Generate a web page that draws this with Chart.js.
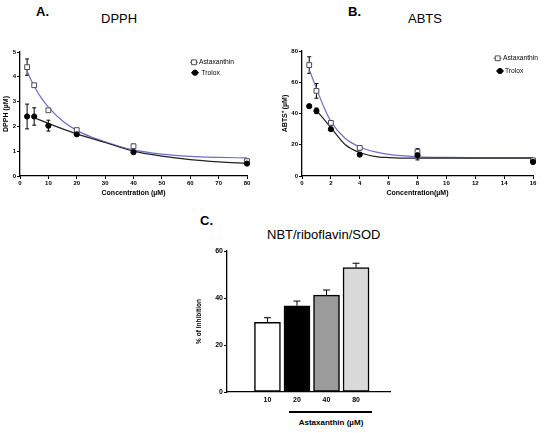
<!DOCTYPE html>
<html>
<head>
<meta charset="utf-8">
<script src="https://cdn.jsdelivr.net/npm/chart.js@4.4.0/dist/chart.umd.min.js"></script>
<style>
  body { margin: 0; background: #fff; }
  #page { position: relative; width: 550px; height: 433px; overflow: hidden; font-family: "Liberation Sans", Arial, sans-serif; color: #000; }
  canvas { position: absolute; }
  .lbl { position: absolute; line-height: 1; white-space: nowrap; }
</style>
</head>
<body>
<div id="page">
  <div class="lbl" style="left:36px;top:5px;font-size:13px;font-weight:bold">A.</div>
  <div class="lbl" style="left:101px;top:12px;font-size:13px">DPPH</div>
  <div class="lbl" style="left:348px;top:5px;font-size:13px;font-weight:bold">B.</div>
  <div class="lbl" style="left:408px;top:12px;font-size:13px">ABTS</div>
  <div class="lbl" style="left:200px;top:214px;font-size:13px;font-weight:bold">C.</div>
  <div class="lbl" style="left:267px;top:228px;font-size:13px">NBT/riboflavin/SOD</div>

  <canvas id="chartA" width="275" height="170" style="left:0;top:30px"></canvas>
  <canvas id="chartB" width="275" height="170" style="left:275px;top:30px"></canvas>
  <canvas id="chartC" width="270" height="170" style="left:140px;top:236px"></canvas>

  <div style="position:absolute;left:289px;top:411px;width:83px;height:1.5px;background:#000"></div>
  <div class="lbl" style="left:331px;top:419px;font-size:8px;font-weight:bold;transform:translateX(-50%)">Astaxanthin (µM)</div>
</div>

<script>
// A. DPPH
const dpphConc = [2.5, 5, 10, 20, 40, 80];
const dpphAsta = [4.39, 3.66, 2.65, 1.85, 1.2, 0.6];
const dpphAstaErr = [0.33, 0.05, 0.05, 0.05, 0.08, 0.03];
const dpphTrolox = [2.4, 2.4, 2.03, 1.68, 0.96, 0.5];
const dpphTroloxErr = [0.5, 0.35, 0.22, 0.05, 0.04, 0.03];
// fitted curves
const dpphAstaFitX = [2.5, 5, 7.5, 10, 15, 20, 25, 30, 40, 50, 60, 70, 80];
const dpphAstaFitY = [4.22, 3.62, 3.15, 2.78, 2.22, 1.84, 1.58, 1.38, 1.05, 0.88, 0.79, 0.75, 0.73];
const dpphTroloxFitX = [5, 10, 15, 20, 30, 40, 50, 60, 70, 80];
const dpphTroloxFitY = [2.35, 2.12, 1.9, 1.7, 1.35, 1.0, 0.8, 0.66, 0.57, 0.51];

// B. ABTS
const abtsConc = [0.5, 1, 2, 4, 8, 16];
const abtsAsta = [71, 54.5, 34, 18, 15.5, 10];
const abtsAstaErr = [5.3, 4.7, 1.5, 1.5, 2, 0.8];
const abtsTrolox = [44.7, 41.7, 30, 13.7, 13.3, 9];
const abtsTroloxErr = [0.8, 1.8, 0.8, 0.8, 3, 0.8];
const abtsAstaFitX = [0.5, 1, 1.5, 2, 3, 4, 5, 6, 8, 10, 12, 16];
const abtsAstaFitY = [68, 56, 44.5, 35, 24, 18.6, 15.6, 13.8, 12.3, 11.9, 11.8, 11.7];
const abtsTroloxFitX = [1, 1.5, 2, 3, 4, 5, 6, 8, 12, 16];
const abtsTroloxFitY = [42, 36.5, 31, 20, 15, 12.6, 11.8, 11.4, 11.4, 11.4];

// C. NBT/riboflavin/SOD
const sodDoses = ['10', '20', '40', '80'];
const sodInhibition = [29.6, 36.7, 41.2, 52.9];
const sodErr = [2.0, 2.0, 2.2, 1.9];
const sodColors = ['#ffffff', '#000000', '#9b9b9b', '#d9d9d9'];

const FONT = '"Liberation Sans", Arial, sans-serif';
const ASTA_LINE = '#6e6ec8';
const TROLOX_LINE = '#222222';
Chart.defaults.font.family = FONT;
Chart.defaults.color = '#000';

const xy = (xs, ys) => xs.map((x, i) => ({ x, y: ys[i] }));

function points(xs, ys, errs, kind, order) {
  const asta = kind === 'asta';
  return {
    data: xy(xs, ys), errors: errs, order, clip: false,
    pointStyle: asta ? 'rect' : 'circle',
    pointRadius: asta ? 3.4 : 2.6,
    backgroundColor: asta ? '#fff' : '#000',
    borderColor: asta ? '#4a4a5a' : '#000',
    borderWidth: 1
  };
}

function fit(xs, ys, color, order) {
  return {
    data: xy(xs, ys), order, clip: false, showLine: true, pointRadius: 0,
    borderColor: color, borderWidth: 1.2, cubicInterpolationMode: 'monotone', fill: false
  };
}

// fix the axis box so the plot area lands where the figure has it
function fixBox(w, h) {
  return scale => {
    if (w != null) scale.width = w;
    if (h != null) scale.height = h;
    scale.paddingLeft = scale.paddingRight = scale.paddingTop = scale.paddingBottom = 0;
  };
}

function axis({ min, max, step, title, tickSize, titleSize, titlePad, w, h }) {
  return {
    type: 'linear', min, max,
    ticks: { stepSize: step, color: '#000', font: { size: tickSize, weight: 'bold' }, padding: 1 },
    grid: { drawOnChartArea: false, drawTicks: true, tickLength: 3, tickColor: '#000', tickWidth: 1 },
    border: { display: true, color: '#000', width: 1.3 },
    title: title
      ? { display: true, text: title, color: '#000', font: { size: titleSize, weight: 'bold' }, padding: titlePad }
      : { display: false },
    afterFit: fixBox(w, h)
  };
}

const errorBars = {
  id: 'errorBars',
  beforeDatasetsDraw(chart) {
    const { ctx } = chart;
    const y = chart.scales.y;
    chart.data.datasets.forEach((ds, i) => {
      if (!ds.errors) return;
      const meta = chart.getDatasetMeta(i);
      const cap = ds.capWidth || 2;
      ctx.save();
      ctx.strokeStyle = '#000';
      ctx.lineWidth = 1;
      meta.data.forEach((el, j) => {
        const v = ds.data[j].y, e = ds.errors[j];
        const top = y.getPixelForValue(v + e);
        const bot = ds.upperOnly ? el.y : y.getPixelForValue(v - e);
        ctx.beginPath();
        ctx.moveTo(el.x, top); ctx.lineTo(el.x, bot);
        ctx.moveTo(el.x - cap, top); ctx.lineTo(el.x + cap, top);
        if (!ds.upperOnly) { ctx.moveTo(el.x - cap, bot); ctx.lineTo(el.x + cap, bot); }
        ctx.stroke();
      });
      ctx.restore();
    });
  }
};

const insideLegend = {
  id: 'insideLegend',
  afterDraw(chart, args, opts) {
    const { ctx } = chart;
    ctx.save();
    (opts.items || []).forEach(it => {
      const p = chart.data.datasets[it.point];
      const l = chart.data.datasets[it.line];
      ctx.strokeStyle = l.borderColor;
      ctx.lineWidth = 1.2;
      ctx.beginPath();
      ctx.moveTo(it.x - 4, it.y); ctx.lineTo(it.x + 4, it.y);
      ctx.stroke();
      ctx.fillStyle = p.backgroundColor;
      ctx.strokeStyle = p.borderColor;
      ctx.lineWidth = 1;
      ctx.beginPath();
      if (p.pointStyle === 'rect') ctx.rect(it.x - 2.4, it.y - 2.4, 4.8, 4.8);
      else ctx.arc(it.x, it.y, 2.6, 0, Math.PI * 2);
      ctx.fill(); ctx.stroke();
      ctx.fillStyle = '#000';
      ctx.font = '6.7px ' + FONT;
      ctx.textBaseline = 'middle';
      ctx.fillText(it.label, it.tx, it.y);
    });
    ctx.restore();
  }
};

const base = {
  responsive: false, animation: false,
  plugins: { legend: { display: false }, tooltip: { enabled: false } }
};

new Chart(document.getElementById('chartA'), {
  type: 'scatter',
  data: { datasets: [
    points(dpphConc, dpphTrolox, dpphTroloxErr, 'trolox', 0),
    points(dpphConc, dpphAsta, dpphAstaErr, 'asta', 1),
    fit(dpphTroloxFitX, dpphTroloxFitY, TROLOX_LINE, 2),
    fit(dpphAstaFitX, dpphAstaFitY, ASTA_LINE, 3)
  ] },
  options: {
    ...base,
    layout: { padding: { left: 0, top: 22, right: 28, bottom: 0 } },
    plugins: { ...base.plugins, insideLegend: { items: [
      { label: 'Astaxanthin', point: 1, line: 3, x: 194, y: 32.3, tx: 199 },
      { label: 'Trolox', point: 0, line: 2, x: 195, y: 42.7, tx: 201.5 }
    ] } },
    scales: {
      x: axis({ min: 0, max: 80, step: 10, title: 'Concentration (µM)', tickSize: 6, titleSize: 7, titlePad: { top: 0, bottom: 3 }, h: 24 }),
      y: axis({ min: 0, max: 5, step: 1, title: 'DPPH (µM)', tickSize: 6, titleSize: 7, titlePad: { top: 2, bottom: 0 }, w: 20 })
    }
  },
  plugins: [errorBars, insideLegend]
});

new Chart(document.getElementById('chartB'), {
  type: 'scatter',
  data: { datasets: [
    points(abtsConc, abtsTrolox, abtsTroloxErr, 'trolox', 0),
    points(abtsConc, abtsAsta, abtsAstaErr, 'asta', 1),
    fit(abtsTroloxFitX, abtsTroloxFitY, TROLOX_LINE, 2),
    fit(abtsAstaFitX, abtsAstaFitY, ASTA_LINE, 3)
  ] },
  options: {
    ...base,
    layout: { padding: { left: 0, top: 21, right: 17, bottom: 0 } },
    plugins: { ...base.plugins, insideLegend: { items: [
      { label: 'Astaxanthin', point: 1, line: 3, x: 222.7, y: 28.3, tx: 228 },
      { label: 'Trolox', point: 0, line: 2, x: 225, y: 41, tx: 230 }
    ] } },
    scales: {
      x: axis({ min: 0, max: 16, step: 2, title: 'Concentration(µM)', tickSize: 6, titleSize: 7, titlePad: { top: 0, bottom: 3 }, h: 24 }),
      y: axis({ min: 0, max: 80, step: 20, title: 'ABTS⁺ (µM)', tickSize: 6, titleSize: 7, titlePad: { top: 6, bottom: 0 }, w: 27 })
    }
  },
  plugins: [errorBars, insideLegend]
});

const xC = axis({ min: -0.68, max: 3.46, tickSize: 7, h: 14 });
xC.afterBuildTicks = scale => { scale.ticks = sodDoses.map((d, i) => ({ value: i })); };
xC.ticks = { color: '#000', font: { size: 7, weight: 'bold' }, padding: 4, callback: v => sodDoses[v] };
xC.grid = { drawOnChartArea: false, drawTicks: false };

new Chart(document.getElementById('chartC'), {
  type: 'bar',
  data: { datasets: [{
    data: sodDoses.map((d, i) => ({ x: i, y: sodInhibition[i] })),
    errors: sodErr, upperOnly: true, capWidth: 3.5,
    backgroundColor: sodColors, borderColor: '#000', borderWidth: 1.5,
    borderSkipped: false, barThickness: 26
  }] },
  options: {
    ...base,
    layout: { padding: { left: 55, top: 15, right: 20, bottom: 0 } },
    scales: {
      x: xC,
      y: axis({ min: 0, max: 60, step: 20, title: '% of Inhibition', tickSize: 7, titleSize: 6.5, titlePad: { top: 0, bottom: 0 }, w: 32 })
    }
  },
  plugins: [errorBars]
});
</script>
</body>
</html>
